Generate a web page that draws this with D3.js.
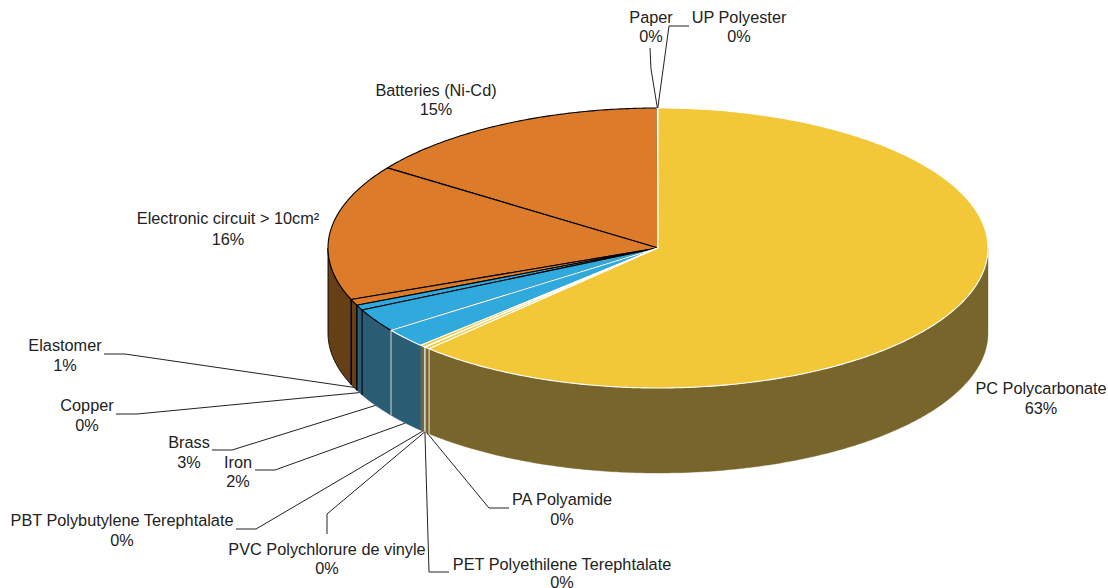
<!DOCTYPE html>
<html><head><meta charset="utf-8">
<script src="https://cdn.jsdelivr.net/npm/d3@7"></script>
<style>html,body{margin:0;padding:0;background:#fff}svg{display:block}text{font-family:"Liberation Sans",Arial,sans-serif;font-size:16.3px;fill:#222;text-anchor:middle}</style>
</head><body><svg id="c" width="1108" height="588"></svg>
<script>
const names=["PC Polycarbonate","PA Polyamide","PET Polyethilene Terephtalate","PVC Polychlorure de vinyle","PBT Polybutylene Terephtalate","Iron","Brass","Copper","Elastomer","Electronic circuit > 10cm²","Batteries (Ni-Cd)","Paper","UP Polyester"];
const values=[62.2,0.27,0.02,0.02,0.25,2.24,2.7,0.6,0.7,15.7,15.26,0.02,0.02];
const percentLabels=["63%","0%","0%","0%","0%","2%","3%","0%","1%","16%","15%","0%","0%"];

// styling, one entry per slice
const groups=["y","y","y","y","y","b","b","b","o","o","o","o","o"];
const topFill={y:"#f2c738",b:"#30a9dc",o:"#dc7c2a"};
const wallFill={y:"#77652c",b:"#2a5c74",o:"#673f16"};
const strokeTop=["#fff","#fff","#fff","#fff","#fff","#fff","#000","#000","#000","#000","#000","#fff","#fff"];
const wallEdge=["#ddd","#ccc","#ccc","#ccc",null,"#ccc","#000","#000","#000",null,null,null,null];

// label layout: [centre x, first line y, second line y]
const labelPos=[[1041,394,414],[562,505,525],[562,570,588],[327,555,574],[122,526,546],[238,468,487],[189,448,468],[87,411,431],[65,351,371],[228,224,245],[436,96,115],[651,23,42],[739,23,42]];
// leader elbows, from the text end to the elbow
const leaders=[null,[[509,508],[489,508]],[[449,572],[429,572]],[[327,534],[327,514]],[[236,529],[256,529]],[[255,470],[275,470]],[[212,450],[232,450]],[[116,414],[137,414]],[[104,354],[125,354]],null,null,[[650,48],[651,69]],[[689,26],[669,26]]];

const x=d3.scaleLinear().domain([-1,1]).range([328,988]);
const y=d3.scaleLinear().domain([-1,1]).range([388,108]);
const depth=d3.scaleLinear().domain([0,1]).range([0,85]);
const svg=d3.select("#c");
const arcs=d3.pie().sort(null).value(d=>d).startAngle(0).endAngle(2*Math.PI)(values);
const px=a=>x(Math.sin(a)), py=a=>y(Math.cos(a));
const samples=(a,b)=>{const n=Math.max(2,Math.ceil((b-a)/0.01));return d3.range(n+1).map(i=>a+(b-a)*i/n)};
const line=d3.line();

// front walls
const lo=Math.PI/2, hi=3*Math.PI/2;
arcs.forEach((s,i)=>{
  const a=Math.max(s.startAngle,lo), b=Math.min(s.endAngle,hi);
  if(b<=a) return;
  const t=samples(a,b);
  const pts=t.map(q=>[px(q),py(q)]).concat(t.slice().reverse().map(q=>[px(q),py(q)+depth(1)]));
  svg.append("path").attr("d",line(pts)+"Z").attr("fill",wallFill[groups[i]])
     .attr("stroke",groups[i]==="o"?"#000":wallFill[groups[i]]).attr("stroke-width",groups[i]==="o"?0.9:0.4);
});
arcs.forEach((s,i)=>{
  if(!wallEdge[i]||s.endAngle<lo||s.endAngle>hi) return;
  const e=s.endAngle;
  svg.append("line").attr("x1",px(e)).attr("x2",px(e)).attr("y1",py(e)).attr("y2",py(e)+depth(1))
     .attr("stroke",wallEdge[i]).attr("stroke-width",1.1);
});

// top faces: black-edged slices first, white-edged on top
const order=d3.range(arcs.length).sort((p,q)=>(strokeTop[p]==="#fff")-(strokeTop[q]==="#fff")||q-p);
order.forEach(i=>{
  const s=arcs[i];
  const pts=[[x(0),y(0)]].concat(samples(s.startAngle,s.endAngle).map(q=>[px(q),py(q)]));
  svg.append("path").attr("d",line(pts)+"Z").attr("fill",topFill[groups[i]])
     .attr("stroke",strokeTop[i]).attr("stroke-width",1.1).attr("stroke-linejoin","round");
});

// leaders, anchored on the outer rim at the slice's mid angle
arcs.forEach((s,i)=>{
  if(!leaders[i]) return;
  const m=(s.startAngle+s.endAngle)/2;
  const front=m>lo&&m<hi;
  const end=[px(m),py(m)+(front?depth(1):0)];
  svg.append("path").attr("d",line(leaders[i].concat([end]))).attr("fill","none").attr("stroke","#222").attr("stroke-width",1);
});

// labels
names.forEach((n,i)=>{
  const [cx,a,b]=labelPos[i];
  svg.append("text").attr("x",cx).attr("y",a).text(n);
  svg.append("text").attr("x",cx).attr("y",b).text(percentLabels[i]);
});
</script></body></html>
